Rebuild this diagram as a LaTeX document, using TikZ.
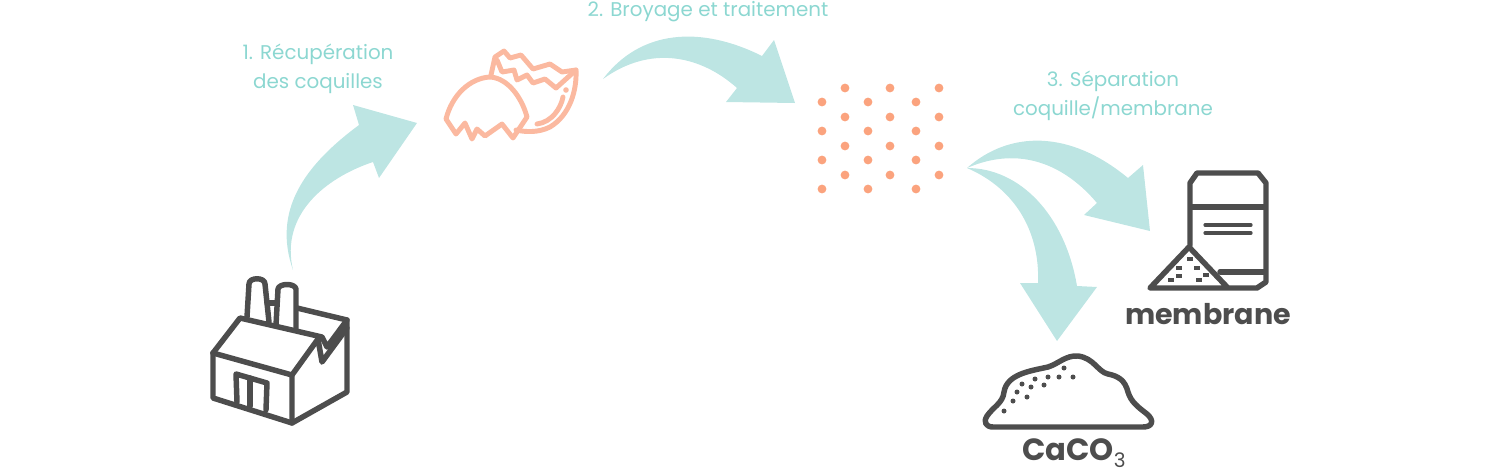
\documentclass[tikz,border=0pt]{standalone}
\usepackage{fontspec}
\setmainfont{Poppins}
\definecolor{myteal}{RGB}{189, 229, 227}
\definecolor{mytext}{RGB}{140, 215, 209}
\definecolor{mypeach}{RGB}{251, 185, 160}
\definecolor{myorange}{RGB}{251, 163, 126}
\definecolor{mygrey}{RGB}{77, 77, 77}
\tikzset{every picture/.style={line width=0.75pt}}
\tikzset{
  flowarrow/.style={fill=myteal},
  icon/.style={draw=mygrey,line width=4.1pt,line join=round,line cap=round},
  thinicon/.style={draw=mygrey,line width=2.4pt,line cap=round},
  shell/.style={draw=mypeach,line width=3.7pt,line join=round,line cap=round},
  steplabel/.style={inner sep=0.75pt,text=mytext,font=\fontsize{14.9}{21.8}\selectfont,align=center},
  namelabel/.style={inner sep=0.75pt,text=mygrey,font=\fontsize{21.4}{24}\selectfont\bfseries},
}

\begin{document}
\begin{tikzpicture}[x=0.75pt,y=0.75pt,yscale=-1,xscale=1]
\useasboundingbox (0,0) rectangle (1500,472);

%Shape: Arrows
\fill [flowarrow] (293,270) .. controls (272,210) and (305,165) .. (359,125) -- (353,105) -- (417,123) -- (379,178) -- (373,162) .. controls (325,178) and (280,215) .. cycle ;
\fill [flowarrow] (603,79) .. controls (640,30) and (700,25) .. (762,56) -- (774,40) -- (795,103) -- (726,102) -- (737,88) .. controls (700,55) and (650,45) .. cycle ;
\fill [flowarrow] (967,168) .. controls (1010,130) and (1070,130) .. (1128,178) -- (1143,165) -- (1150,231) -- (1084,215) -- (1097,203) .. controls (1065,165) and (1020,145) .. cycle ;
\fill [flowarrow] (967,168) .. controls (1020,168) and (1065,215) .. (1077,286) -- (1097,287) -- (1057,341) -- (1020,283) -- (1038,283) .. controls (1040,235) and (1018,190) .. cycle ;

%Shape: Factory
\draw [icon] (213,353) -- (213,398) -- (292,423) -- (347,392) -- (347,320) -- (297,308) ;
\draw [icon] (213,353) -- (240,318) -- (322,337) -- (327,347) -- (347,320) ;
\draw [icon] (213,353) -- (292,375) -- (292,423) ;
\draw [icon] (292,375) -- (318,339) -- (322,362) -- (347,328) ;
\draw [icon] (247,317) -- (249,284) .. controls (249,277) and (265,277) .. (265,284) -- (269,322) ;
\draw [icon] (276,325) -- (278,289) .. controls (279,283) and (295,283) .. (296,289) -- (296,330) ;
\draw [icon] (267,303) -- (277,303) ;
\draw [icon] (237,402) -- (236,374) -- (267,383) -- (266,410) ;
\draw [icon] (250,378) -- (250,406) ;

%Shape: Egg shell
\draw [shell] (491,75) -- (495,57) -- (504,51) -- (510,58) -- (521,55) -- (533,69) -- (550,64) -- (562,72) -- (576,70) .. controls (577,90) and (570,115) .. (550,127) .. controls (538,133) and (525,132) .. (516,130) ;
\draw [shell] (497,60) -- (502,72) -- (514,70) -- (517,80) -- (527,75) -- (533,83) -- (545,79) -- (556,88) -- (576,70) ;
\draw [shell] (537,124) .. controls (552,122) and (561,108) .. (563,97) ;
\fill [mypeach] (566,90) circle [radius=2.8] ;
\draw [shell] (446,119) .. controls (452,95) and (470,78) .. (490,77) .. controls (508,78) and (522,98) .. (527,117) -- (513,138) -- (502,124) -- (485,136) -- (477,129) -- (472,139) -- (465,123) -- (456,134) -- cycle ;

%Shape: Crushed shell dots
\foreach \dotx in {845,890,939} \foreach \doty in {88,117,146,175} \fill [myorange] (\dotx,\doty) circle [radius=4.4] ;
\foreach \dotx in {822,868,916} \foreach \doty in {102,131,160,189} \fill [myorange] (\dotx,\doty) circle [radius=4.4] ;

%Shape: Bag
\draw [icon] (1190,245) -- (1190,183) -- (1197,173) -- (1258,173) -- (1266,183) -- (1266,282) -- (1257,288) -- (1150,288) -- (1189,247) -- (1228,288) ;
\draw [icon] (1191,207) -- (1265,207) ;
\draw [icon] (1220,272) -- (1265,272) ;
\draw [thinicon] (1205,225) -- (1251,225) ;
\draw [thinicon] (1205,233) -- (1251,233) ;
\foreach \grainx/\grainy in {1190/259,1179/268,1197/268,1206/275,1179/276,1171/280,1199/280} \fill [mygrey] (\grainx-2.7,\grainy-1.6) rectangle (\grainx+2.7,\grainy+1.6) ;

%Shape: Powder pile
\draw [icon] (993,427) -- (1143,427) .. controls (1152,427) and (1155,421) .. (1147,414) .. controls (1138,407) and (1131,402) .. (1128,392) .. controls (1125,380) and (1118,376) .. (1108,374) .. controls (1098,372) and (1094,358) .. (1078,356) .. controls (1066,355) and (1058,364) .. (1048,367) .. controls (1030,371) and (1007,374) .. (1004,392) .. controls (1003,403) and (993,407) .. (987,416) .. controls (983,422) and (986,427) .. cycle ;
\foreach \grainx/\grainy in {1064/368,1073/377,1059/377,1048/377,1044/385,1035/379,1031/387,1022/384,1017/392,1027/397,1013/401,1004/411} \fill [mygrey] (\grainx,\grainy) circle [radius=2.5] ;

% Text Node
\node (recuperation) at (318,69) [steplabel] {1. Récupération\\des coquilles};
% Text Node
\node (broyage) at (708,12) [steplabel] {2. Broyage et traitement};
% Text Node
\node (separation) at (1113,96) [steplabel] {3. Séparation\\coquille/membrane};
% Text Node
\node (membrane) at (1208,314) [namelabel] {membrane};
% Text Node
\node (caco) at (1074,453) [namelabel] {\fontsize{23}{24}\selectfont CaCO{\fontsize{15}{15}\selectfont\mdseries\raisebox{-5pt}{3}}};

\end{tikzpicture}
\end{document}
